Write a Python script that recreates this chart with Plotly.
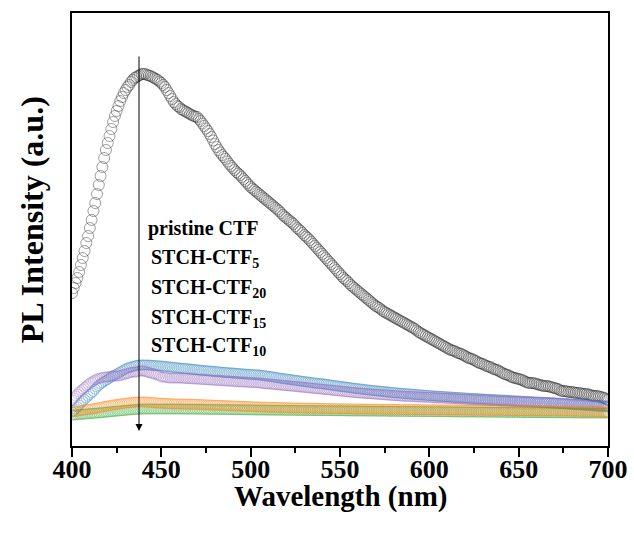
import plotly.graph_objects as go

# Emission wavelength grid (nm), 1 nm sampling
wavelength = list(range(400, 701))

# PL intensity (a.u.); each row holds one decade of wavelengths (400-409, 410-419, ...)
pristine_ctf = [
    1530, 1580, 1630, 1680, 1740, 1810, 1880, 1950, 2030, 2100,
    2180, 2260, 2350, 2430, 2520, 2610, 2700, 2790, 2880, 2960,
    3030, 3100, 3170, 3240, 3300, 3350, 3400, 3450, 3490, 3530,
    3560, 3590, 3610, 3640, 3660, 3680, 3690, 3700, 3710, 3720,
    3720, 3720, 3710, 3705, 3700, 3690, 3680, 3670, 3660, 3645,
    3630, 3610, 3590, 3560, 3530, 3500, 3470, 3440, 3420, 3400,
    3390, 3370, 3360, 3350, 3340, 3330, 3320, 3310, 3300, 3295,
    3290, 3270, 3250, 3225, 3200, 3175, 3150, 3120, 3090, 3055,
    3020, 2990, 2960, 2935, 2910, 2890, 2870, 2845, 2820, 2800,
    2780, 2760, 2740, 2725, 2710, 2690, 2670, 2650, 2630, 2610,
    2590, 2575, 2560, 2545, 2530, 2515, 2500, 2485, 2470, 2455,
    2440, 2425, 2410, 2395, 2380, 2365, 2350, 2330, 2310, 2295,
    2280, 2265, 2250, 2235, 2220, 2200, 2180, 2165, 2150, 2130,
    2110, 2095, 2080, 2060, 2040, 2020, 2000, 1980, 1960, 1940,
    1920, 1900, 1880, 1860, 1840, 1820, 1800, 1780, 1760, 1740,
    1720, 1700, 1680, 1665, 1650, 1630, 1610, 1595, 1580, 1565,
    1550, 1535, 1520, 1505, 1490, 1475, 1460, 1445, 1430, 1415,
    1400, 1390, 1380, 1365, 1350, 1340, 1330, 1320, 1310, 1300,
    1290, 1280, 1270, 1260, 1250, 1240, 1230, 1220, 1210, 1200,
    1190, 1180, 1170, 1155, 1140, 1130, 1120, 1110, 1100, 1090,
    1080, 1070, 1060, 1050, 1040, 1030, 1020, 1010, 1000, 990,
    980, 970, 960, 955, 950, 940, 930, 925, 920, 910,
    900, 890, 880, 875, 870, 860, 850, 840, 830, 825,
    820, 810, 800, 795, 790, 780, 770, 765, 760, 750,
    740, 730, 720, 715, 710, 700, 690, 685, 680, 675,
    670, 665, 660, 650, 640, 635, 630, 630, 630, 625,
    620, 615, 610, 605, 600, 600, 600, 595, 590, 585,
    580, 575, 570, 560, 550, 550, 550, 545, 540, 540,
    540, 535, 530, 530, 530, 525, 520, 520, 520, 515,
    510, 505, 500, 500, 500, 495, 490, 485, 480, 470,
    460,
]

stch_ctf5 = [
    340, 355, 370, 390, 410, 430, 450, 465, 480, 498,
    515, 530, 545, 568, 590, 605, 620, 633, 645, 655,
    665, 678, 690, 700, 710, 720, 730, 740, 750, 760,
    770, 778, 785, 790, 795, 800, 805, 808, 810, 810,
    810, 810, 810, 809, 808, 806, 805, 803, 802, 801,
    800, 798, 796, 794, 792, 790, 788, 786, 784, 782,
    780, 778, 777, 775, 774, 772, 770, 768, 766, 764,
    762, 760, 758, 756, 755, 753, 752, 750, 748, 746,
    745, 743, 742, 740, 738, 736, 735, 733, 732, 731,
    730, 728, 727, 725, 724, 722, 721, 719, 718, 717,
    716, 714, 713, 712, 711, 709, 707, 704, 702, 699,
    697, 694, 692, 689, 686, 683, 680, 677, 675, 672,
    670, 667, 665, 662, 660, 657, 655, 652, 650, 647,
    645, 642, 640, 637, 635, 632, 630, 628, 626, 624,
    622, 620, 618, 615, 612, 609, 607, 604, 602, 599,
    597, 594, 592, 590, 588, 585, 582, 579, 577, 575,
    573, 571, 569, 566, 564, 562, 560, 558, 556, 554,
    553, 551, 549, 547, 545, 543, 541, 539, 537, 535,
    534, 532, 531, 529, 528, 526, 525, 523, 522, 520,
    519, 517, 516, 514, 513, 511, 510, 508, 507, 505,
    504, 503, 502, 500, 499, 498, 497, 496, 495, 493,
    492, 491, 490, 488, 487, 486, 485, 484, 483, 481,
    480, 479, 478, 477, 476, 475, 474, 473, 472, 471,
    470, 469, 468, 467, 466, 465, 464, 463, 462, 461,
    460, 459, 458, 457, 456, 455, 454, 453, 452, 451,
    450, 449, 448, 447, 446, 445, 444, 443, 442, 441,
    440, 439, 438, 437, 436, 435, 434, 433, 432, 431,
    430, 429, 428, 427, 426, 425, 424, 423, 422, 421,
    420, 419, 418, 417, 416, 415, 414, 413, 412, 411,
    410, 409, 408, 407, 406, 405, 404, 403, 402, 401,
    400,
]

stch_ctf20 = [
    460, 480, 500, 520, 540, 555, 570, 585, 600, 615,
    630, 640, 650, 660, 670, 675, 680, 685, 690, 690,
    690, 695, 700, 700, 700, 700, 700, 705, 710, 715,
    720, 725, 730, 735, 740, 740, 740, 745, 750, 750,
    750, 745, 740, 735, 730, 725, 720, 715, 710, 700,
    690, 690, 690, 685, 680, 680, 680, 680, 680, 680,
    680, 679, 678, 677, 676, 675, 674, 672, 671, 670,
    669, 668, 667, 666, 665, 663, 662, 661, 660, 659,
    658, 657, 656, 654, 653, 652, 651, 650, 649, 648,
    647, 645, 644, 643, 642, 641, 640, 639, 638, 637,
    636, 635, 634, 633, 632, 630, 628, 626, 624, 622,
    621, 619, 618, 616, 614, 612, 611, 609, 607, 605,
    604, 602, 600, 598, 597, 595, 593, 591, 590, 588,
    586, 584, 583, 581, 579, 577, 575, 573, 572, 570,
    568, 566, 564, 562, 561, 559, 557, 555, 553, 551,
    550, 548, 546, 544, 542, 540, 539, 537, 535, 533,
    532, 530, 529, 528, 527, 525, 524, 522, 521, 520,
    519, 517, 516, 514, 513, 512, 511, 509, 508, 506,
    505, 504, 503, 501, 500, 499, 498, 497, 496, 495,
    495, 494, 493, 492, 491, 490, 489, 488, 487, 486,
    486, 485, 484, 483, 482, 481, 480, 479, 479, 478,
    477, 476, 475, 474, 473, 472, 471, 470, 470, 469,
    468, 467, 466, 465, 464, 463, 462, 461, 461, 460,
    459, 458, 457, 456, 455, 454, 454, 453, 452, 451,
    450, 449, 449, 448, 448, 447, 446, 445, 445, 444,
    443, 442, 442, 441, 441, 440, 439, 438, 438, 437,
    437, 436, 435, 434, 434, 433, 433, 432, 431, 430,
    430, 428, 427, 426, 425, 423, 422, 420, 419, 418,
    417, 415, 414, 412, 411, 410, 409, 407, 406, 404,
    403, 402, 401, 399, 398, 396, 395, 394, 393, 391,
    390,
]

stch_ctf15 = [
    340, 342, 345, 347, 350, 353, 356, 359, 362, 365,
    368, 370, 373, 376, 380, 383, 387, 390, 394, 397,
    400, 403, 407, 410, 413, 415, 418, 420, 423, 425,
    428, 430, 432, 434, 436, 437, 439, 440, 440, 440,
    440, 439, 438, 437, 436, 434, 433, 431, 430, 429,
    428, 427, 426, 425, 424, 423, 422, 421, 421, 420,
    420, 419, 419, 418, 418, 418, 418, 417, 417, 416,
    416, 415, 414, 413, 413, 412, 411, 410, 410, 409,
    408, 407, 407, 406, 405, 404, 404, 403, 402, 401,
    401, 400, 399, 398, 398, 397, 396, 395, 395, 394,
    394, 393, 392, 391, 391, 390, 390, 389, 389, 388,
    388, 387, 387, 386, 386, 385, 385, 384, 384, 383,
    383, 382, 382, 381, 381, 380, 380, 380, 380, 379,
    379, 379, 379, 378, 378, 378, 378, 377, 377, 376,
    376, 376, 376, 375, 375, 374, 374, 373, 373, 373,
    373, 372, 372, 372, 372, 371, 371, 370, 370, 370,
    370, 370, 370, 369, 369, 369, 369, 369, 369, 368,
    368, 368, 368, 367, 367, 367, 367, 367, 367, 366,
    366, 366, 366, 366, 366, 365, 365, 365, 365, 365,
    365, 364, 364, 364, 364, 364, 364, 363, 363, 363,
    363, 363, 363, 362, 362, 362, 362, 361, 361, 361,
    361, 361, 361, 360, 360, 360, 360, 360, 360, 360,
    360, 359, 359, 359, 359, 358, 358, 358, 358, 358,
    358, 357, 357, 357, 357, 357, 357, 356, 356, 356,
    356, 356, 356, 355, 355, 355, 355, 354, 354, 354,
    354, 354, 354, 353, 353, 353, 353, 352, 352, 352,
    352, 352, 352, 351, 351, 351, 351, 351, 351, 350,
    350, 350, 350, 350, 350, 349, 349, 349, 349, 348,
    348, 348, 348, 347, 347, 346, 346, 346, 346, 345,
    345, 344, 344, 343, 343, 342, 342, 341, 341, 340,
    340,
]

stch_ctf10 = [
    310, 311, 312, 313, 314, 316, 317, 319, 320, 322,
    323, 325, 326, 328, 329, 331, 332, 334, 336, 338,
    340, 342, 343, 345, 347, 349, 350, 352, 354, 356,
    357, 359, 360, 362, 363, 365, 366, 367, 368, 369,
    370, 370, 370, 370, 370, 370, 370, 370, 370, 370,
    370, 370, 370, 370, 370, 370, 370, 370, 370, 370,
    370, 370, 369, 369, 369, 369, 369, 369, 369, 368,
    368, 368, 368, 367, 367, 367, 367, 366, 366, 366,
    366, 366, 366, 365, 365, 365, 365, 364, 364, 364,
    364, 363, 363, 363, 363, 362, 362, 362, 362, 361,
    361, 361, 361, 360, 360, 360, 360, 360, 360, 359,
    359, 359, 359, 358, 358, 358, 358, 358, 358, 357,
    357, 357, 357, 357, 357, 356, 356, 356, 356, 355,
    355, 355, 355, 355, 355, 354, 354, 354, 354, 354,
    354, 353, 353, 353, 353, 353, 353, 352, 352, 352,
    352, 352, 352, 351, 351, 351, 351, 350, 350, 350,
    350, 350, 350, 350, 350, 349, 349, 349, 349, 349,
    349, 348, 348, 348, 348, 348, 348, 347, 347, 347,
    347, 347, 347, 346, 346, 346, 346, 346, 346, 345,
    345, 345, 345, 345, 345, 344, 344, 344, 344, 344,
    344, 343, 343, 343, 343, 343, 343, 342, 342, 342,
    342, 342, 342, 341, 341, 341, 341, 340, 340, 340,
    340, 340, 340, 340, 340, 340, 339, 339, 339, 339,
    339, 339, 338, 338, 338, 338, 338, 338, 337, 337,
    337, 337, 337, 337, 336, 336, 336, 336, 336, 336,
    335, 335, 335, 335, 335, 335, 334, 334, 334, 334,
    334, 334, 333, 333, 333, 333, 333, 333, 332, 332,
    332, 332, 332, 332, 331, 331, 331, 331, 331, 331,
    330, 330, 330, 330, 330, 330, 330, 330, 330, 330,
    330, 330, 330, 330, 330, 330, 330, 330, 330, 330,
    330,
]

labels = ["pristine CTF", "STCH-CTF<sub>5</sub>", "STCH-CTF<sub>20</sub>",
          "STCH-CTF<sub>15</sub>", "STCH-CTF<sub>10</sub>"]

FONT = "Liberation Serif"

fig = go.Figure()

# (name, values, stroke colour, marker size, stroke width) in drawing order
series = [
    ("pristine CTF", pristine_ctf, "rgba(20,20,20,0.45)", 11, 0.9),
    ("STCH-CTF5", stch_ctf5, "rgba(31,119,180,0.5)", 10, 0.7),
    ("STCH-CTF20", stch_ctf20, "rgba(148,103,189,0.55)", 10, 0.7),
    ("STCH-CTF10", stch_ctf10, "rgba(44,160,44,0.5)", 10, 0.7),
    ("STCH-CTF15", stch_ctf15, "rgba(255,127,14,0.5)", 10, 0.7),
]
for name, vals, col, size, lw in series:
    fig.add_trace(go.Scatter(
        x=wavelength, y=vals, mode="markers", name=name,
        marker=dict(symbol="circle-open", size=size, color=col,
                    line=dict(width=lw, color=col)),
        showlegend=False,
    ))

# Downward arrow marking the quenching trend at the emission maximum
arrow_x = 437.5
fig.add_annotation(
    x=arrow_x, y=150, ax=arrow_x, ay=3910,
    xref="x", yref="y", axref="x", ayref="y",
    showarrow=True, arrowhead=2, arrowsize=1.4, arrowwidth=1,
    arrowcolor="black", text="",
)

# Sample labels stacked beside the arrow
label_x = [441.5, 443, 443, 443, 443]
label_y = [2180, 1880, 1580, 1280, 1000]
for t, lx, ly in zip(labels, label_x, label_y):
    fig.add_annotation(
        x=lx, y=ly, xref="x", yref="y", text=t, showarrow=False,
        xanchor="left", yanchor="middle",
        font=dict(family=FONT, size=20, color="black", weight="bold"),
    )

# Axis titles
fig.add_annotation(
    x=0.5, y=-0.117, xref="paper", yref="paper", text="Wavelength (nm)",
    showarrow=False, xanchor="center", yanchor="middle",
    font=dict(family=FONT, size=29, color="black", weight="bold"),
)
fig.add_annotation(
    x=-0.075, y=0.523, xref="paper", yref="paper", text="PL Intensity (a.u.)",
    showarrow=False, xanchor="center", yanchor="middle", textangle=-90,
    font=dict(family=FONT, size=32, color="black", weight="bold"),
)

fig.update_layout(
    width=634, height=538,
    margin=dict(l=72, r=26, t=13, b=92, autoexpand=False),
    paper_bgcolor="white", plot_bgcolor="white",
    xaxis=dict(
        range=[400, 700], tickmode="array",
        tickvals=[400, 450, 500, 550, 600, 650, 700],
        ticks="outside", ticklen=9, tickwidth=2, tickcolor="black",
        showline=True, linewidth=2, linecolor="black", mirror=True,
        showgrid=False, zeroline=False, automargin=False,
        ticklabelstandoff=-10,
        tickfont=dict(family=FONT, size=26, color="black", weight="bold"),
        minor=dict(dtick=25, ticks="outside", ticklen=5, tickwidth=2,
                   tickcolor="black", showgrid=False),
    ),
    yaxis=dict(
        range=[0, 4330], showticklabels=False, ticks="",
        showline=True, linewidth=2, linecolor="black", mirror=True,
        showgrid=False, zeroline=False, automargin=False,
    ),
)

fig.write_html("out.html")
